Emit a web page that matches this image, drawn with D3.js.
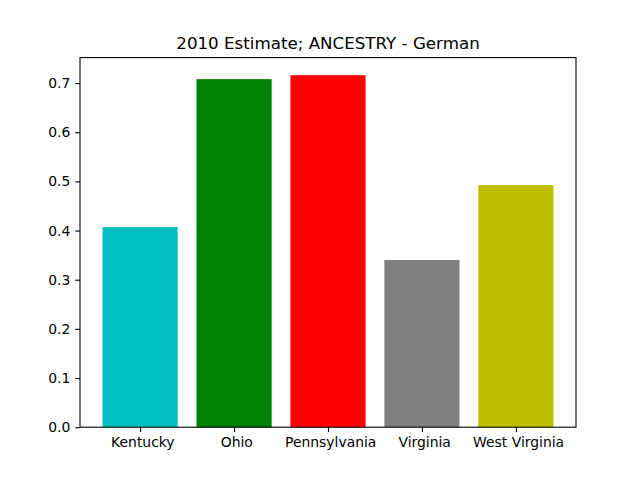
<!DOCTYPE html>
<html><head><meta charset="utf-8">
<script src="https://cdn.jsdelivr.net/npm/d3@7"></script>
<style>body{margin:0;background:#fff}text{font-family:"DejaVu Sans",sans-serif;white-space:pre}</style>
</head><body><svg id="c" width="640" height="480"></svg>
<script>
const categories = [" Kentucky", " Ohio", " Pennsylvania", " Virginia", " West Virginia"];
const values = [0.407, 0.708, 0.716, 0.340, 0.4925];
const colors = ["#00bfbf", "#008000", "#ff0000", "#808080", "#bfbf00"];
const yTicks = [0.0, 0.1, 0.2, 0.3, 0.4, 0.5, 0.6, 0.7];
const title = "2010 Estimate; ANCESTRY - German";

const svg = d3.select("#c");
const L = 80, R = 576, T = 57.6, B = 427.2;
const x = d3.scaleLinear().domain([-0.64, 4.64]).range([L, R]);
const y = d3.scaleLinear().domain([0, d3.max(values) * 1.05]).range([B, T]);

svg.append("g").selectAll("rect").data(values).join("rect")
  .attr("x", (d, i) => x(i - 0.4)).attr("width", (d, i) => x(i + 0.4) - x(i - 0.4))
  .attr("y", d => y(d)).attr("height", d => B - y(d))
  .attr("fill", (d, i) => colors[i]);

const yAxis = d3.axisLeft(y).tickValues(yTicks).tickFormat(d3.format(".1f")).tickSizeInner(4.86).tickSizeOuter(0).tickPadding(4.86);
const gy = svg.append("g").attr("transform", `translate(${L},0)`).call(yAxis);
const xAxis = d3.axisBottom(x).tickValues(categories.map((c, i) => i)).tickFormat(i => categories[i]).tickSizeInner(4.86).tickSizeOuter(0).tickPadding(4.86);
const gx = svg.append("g").attr("transform", `translate(0,${B})`).call(xAxis);
[gx, gy].forEach(g => {
  g.selectAll("text").attr("font-size", "13.9px").attr("fill", "#000").style("font-family", '"DejaVu Sans",sans-serif');
  g.selectAll("line").attr("stroke", "#000").attr("stroke-width", 1.1);
  g.select(".domain").remove();
});

svg.append("rect").attr("x", L).attr("y", T).attr("width", R - L).attr("height", B - T)
  .attr("fill", "none").attr("stroke", "#000").attr("stroke-width", 1.1);

svg.append("text").attr("x", (L + R) / 2).attr("y", T - 8.3).attr("text-anchor", "middle")
  .attr("font-size", "16.7px").text(title);
</script></body></html>
